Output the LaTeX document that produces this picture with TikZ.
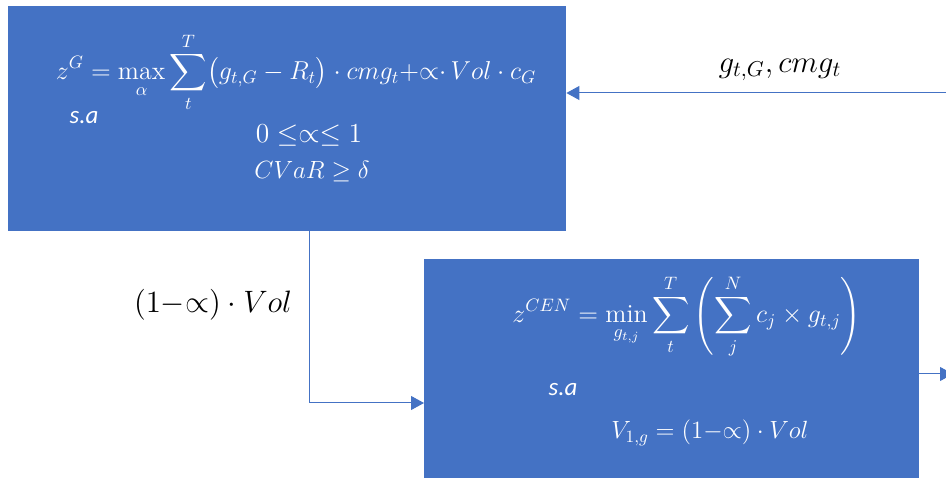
\documentclass[tikz,border=0pt]{standalone}
\usepackage{amsmath,amssymb}
\usepackage{fontspec}
\newfontfamily\cali{Carlito}
\usepackage{xcolor}
\usetikzlibrary{arrows.meta,positioning,calc}
\definecolor{offblue}{HTML}{4472C4}
\tikzset{
  model/.style={rectangle, draw=none, fill=offblue, anchor=north west, inner sep=0pt},
  eqn/.style={text=white, font=\fontsize{14.4}{17}\selectfont, inner sep=0pt, scale=1.8, transform shape},
  sa/.style={text=white, font=\fontsize{25}{30}\selectfont\cali\itshape, inner sep=0pt},
  lbl/.style={text=black, font=\fontsize{14.4}{17}\selectfont, inner sep=0pt, scale=2.15, transform shape},
  ar/.style={-{Triangle[length=13pt,width=14pt]}, draw=offblue, line width=1pt},
}
\begin{document}
\begin{tikzpicture}[x=1pt,y=-1pt]
\useasboundingbox (0,0) rectangle (946,478);
\clip (0,0) rectangle (946,478);

% ---------- generator model ----------
\node[model,minimum width=558pt,minimum height=225pt] (gen) at (8,6) {};
\node[eqn] (genobj) at (296,72)
   {$\displaystyle z^{G}=\max_{\alpha}\sum_{t}^{T}\bigl(g_{t,G}-R_t\bigr)\cdot cmg_t{+}{\propto}{\cdot}\,Vol\cdot c_G$};
\node[sa] (gensa) at (84,118) {s.a};
\node[eqn,scale=1.06] (genc1) at (309,136) {$0\;{\leq}{\propto}{\leq}\;1$};
\node[eqn,scale=0.96] (genc2) at (312,172) {$CVaR\geq\delta$};

% ---------- central dispatch model ----------
\node[model,minimum width=495pt,minimum height=220pt] (cen) at (424,259) {};
\node[eqn] (cenobj) at (687,317)
   {$\displaystyle z^{CEN}=\min_{g_{t,j}}\sum_{t}^{T}\left(\sum_{j}^{N}c_j\times g_{t,j}\right)$};
\node[sa] (censa) at (563,390) {s.a};
\node[eqn,scale=0.96] (cenc1) at (710,433) {$V_{1,g}=(1{-}{\propto})\cdot Vol$};

% ---------- flows ----------
\coordinate (inR) at (962,93);
\coordinate (bend) at (309,403);
\coordinate (outR) at (953,374);
\draw[ar] (inR) -- (inR -| gen.east);
\draw[ar] (gen.south -| bend) -- (bend) -- (bend -| cen.west);
\draw[ar] (cen.east |- outR) -- (outR);

\node[lbl] (inlbl) at (780,70) {$g_{t,G},cmg_t$};
\node[lbl] (vollbl) at (213,305) {$(1{-}{\propto})\cdot Vol$};
\end{tikzpicture}
\end{document}
